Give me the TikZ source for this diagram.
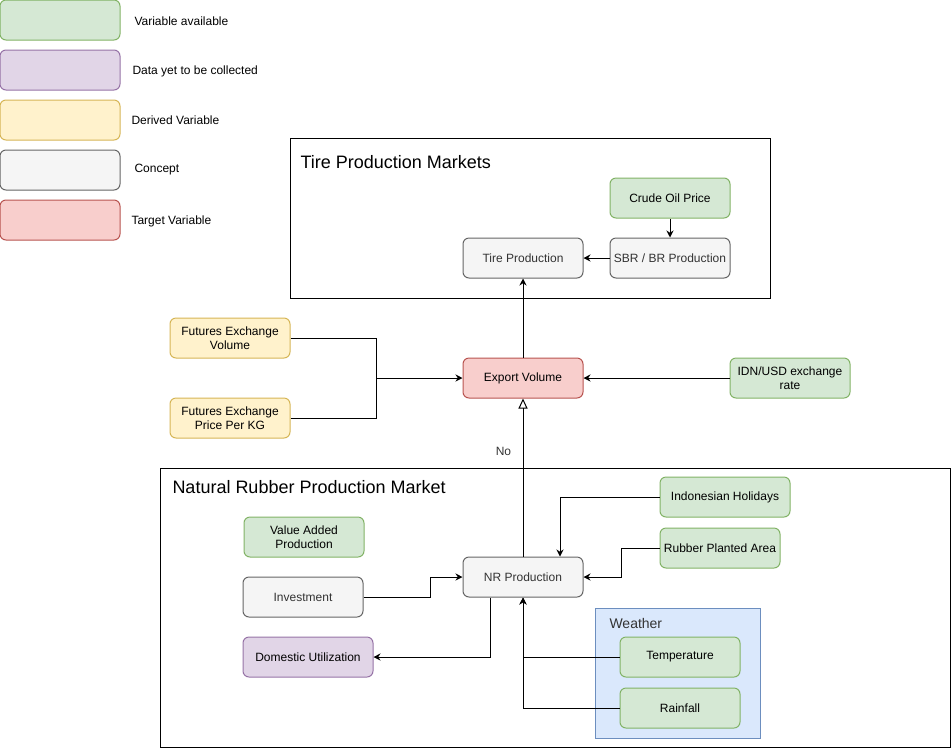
\documentclass[tikz,border=0pt]{standalone}
\usepackage{fontspec}
\setmainfont{Liberation Sans}
\usetikzlibrary{arrows.meta}

\definecolor{availfill}{HTML}{D5E8D4}
\definecolor{availline}{HTML}{82B366}
\definecolor{pendfill}{HTML}{E1D5E7}
\definecolor{pendline}{HTML}{9673A6}
\definecolor{derivfill}{HTML}{FFF2CC}
\definecolor{derivline}{HTML}{D6B656}
\definecolor{conceptfill}{HTML}{F5F5F5}
\definecolor{conceptline}{HTML}{666666}
\definecolor{targetfill}{HTML}{F8CECC}
\definecolor{targetline}{HTML}{B85450}
\definecolor{weatherfill}{HTML}{DAE8FC}
\definecolor{weatherline}{HTML}{6C8EBF}
\definecolor{greytext}{HTML}{333333}

\begin{document}
\begin{tikzpicture}[x=1pt, y=-1pt, line width=1pt,
    font=\fontsize{12}{14}\selectfont,
    varbox/.style ={rectangle, rounded corners=6pt, draw, inner sep=0pt,
      minimum width=120pt, minimum height=40pt, align=center},
    available/.style ={varbox, fill=availfill, draw=availline},
    pending/.style ={varbox, fill=pendfill, draw=pendline},
    derived/.style ={varbox, fill=derivfill, draw=derivline},
    concept/.style ={varbox, fill=conceptfill, draw=conceptline, text=greytext},
    target/.style ={varbox, fill=targetfill, draw=targetline},
    legendtext/.style ={anchor=west, inner sep=0pt},
    frametitle/.style ={anchor=west, inner sep=0pt, font=\fontsize{18}{20}\selectfont},
    link/.style ={-{Stealth[length=7pt, width=7pt]}}]
   \useasboundingbox (0,0) rectangle (951,748);
   % legend
   \node[available] (LA) at (60,20)  {};
   \node[pending]   (LP) at (60,70)  {};
   \node[derived]   (LD) at (60,120) {};
   \node[concept]   (LC) at (60,170) {};
   \node[target]    (LT) at (60,220) {};
   \node[legendtext] (LAtext) at (134,21)  {Variable available};
   \node[legendtext] (LPtext) at (132,71)  {Data yet to be collected};
   \node[legendtext] (LDtext) at (131,120) {Derived Variable};
   \node[legendtext] (LCtext) at (134,170) {Concept};
   \node[legendtext] (LTtext) at (131,221) {Target Variable};
   % market frames
   \draw (290,138) rectangle (770,298);
   \node[frametitle] (tiretitle) at (300,162) {Tire Production Markets};
   \draw (160,468) rectangle (950,747);
   \node[frametitle] (nrtitle) at (172,487) {Natural Rubber Production Market};
   \draw[fill=weatherfill, draw=weatherline] (595,608) rectangle (760,738);
   \node[anchor=west, inner sep=0pt, text=greytext, font=\fontsize{14}{16}\selectfont]
     (weathertitle) at (609,623) {Weather};
   % tire production market
   \node[available] (crude) at (670,198) {Crude Oil Price};
   \node[concept]   (sbr)   at (670,258) {SBR / BR Production};
   \node[concept]   (tire)  at (523,258) {Tire Production};
   % export
   \node[target]  (export)  at (523,378) {Export Volume};
   \node[derived] (futvol)  at (230,338) {Futures Exchange\\Volume};
   \node[derived] (futprice) at (230,418) {Futures Exchange\\Price Per KG};
   \node[available] (idnusd) at (790,378) {IDN/USD exchange\\rate};
   \coordinate (futjoin) at (376,378);
   % natural rubber production market
   \node[available, minimum width=130pt] (holidays) at (725,497) {Indonesian Holidays};
   \node[available] (planted)  at (720,548) {Rubber Planted Area};
   \node[concept]   (nr)       at (523,577) {NR Production};
   \node[available] (valueadd) at (304,537) {Value Added\\Production};
   \node[concept]   (invest)   at (303,597) {Investment};
   \node[pending, minimum width=130pt] (domestic) at (308,657) {Domestic Utilization};
   \node[available] (temp)     at (680,657) {Temperature};
   \node[available] (rain)     at (680,708) {Rainfall};
   % connectors
   \draw[link] (crude) to (sbr);
   \draw[link] (sbr) to (tire);
   \draw[link] (export) to (tire);
   \draw[link] (idnusd) to (export);
   \draw (futvol.east) -| (futjoin);
   \draw (futprice.east) -| (futjoin);
   \draw[link] (futjoin) to (export.west);
   \draw[-{Triangle[open, length=10pt, width=9pt]}] (nr) to
     node[pos=0.667, left=8pt, text=greytext] (nolabel) {No} (export);
   \draw[link] (holidays.west) -| ([xshift=37pt]nr.north);
   \draw[link] (planted.west) -- ++(-38,0) |- (nr.east);
   \draw[link] (invest.east) -- ++(67,0) |- (nr.west);
   \draw[link] ([xshift=-33pt]nr.south) |- (domestic.east);
   \draw[link] (temp.west) -| (nr.south);
   \draw[link] (rain.west) -| (nr.south);
 \end{tikzpicture}
\end{document}
